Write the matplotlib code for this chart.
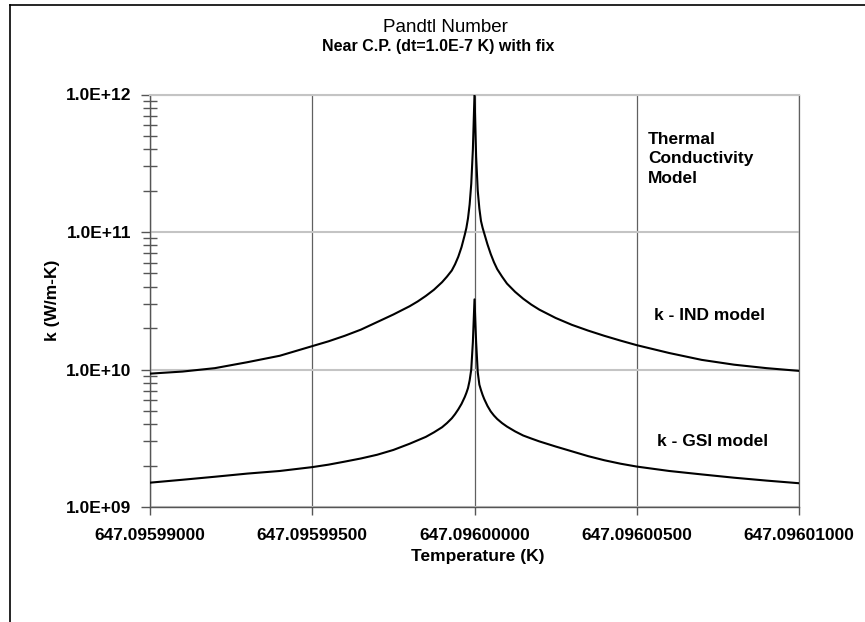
import matplotlib
matplotlib.use('Agg')
import matplotlib.pyplot as plt
from matplotlib.lines import Line2D
from matplotlib.ticker import LogLocator, NullFormatter, FixedLocator, FixedFormatter
import numpy as np

# ---------------- data ----------------
T0 = 647.096  # critical temperature (K)
dT_uK = [-10, -9, -8, -7, -6, -5, -4.5, -4, -3.5, -3, -2.5, -2, -1.75, -1.5, -1.25, -1,
         -0.85, -0.7, -0.6, -0.5, -0.4, -0.3, -0.25, -0.2, -0.15, -0.1, -0.05,
         0,
         0.05, 0.1, 0.15, 0.2, 0.25, 0.3, 0.4, 0.5, 0.6, 0.7, 0.85,
         1, 1.25, 1.5, 1.75, 2, 2.5, 3, 3.5, 4, 4.5, 5, 6, 7, 8, 9, 10]
k_IND = [9.33e9, 9.66e9, 1.023e10, 1.130e10, 1.259e10, 1.479e10, 1.603e10, 1.758e10,
         1.950e10, 2.213e10, 2.512e10, 2.884e10, 3.126e10, 3.428e10, 3.802e10, 4.315e10,
         4.732e10, 5.248e10, 5.821e10, 6.607e10, 7.762e10, 9.550e10, 1.072e11, 1.259e11,
         1.585e11, 2.239e11, 3.981e11,
         1.0e12,
         3.548e11, 1.995e11, 1.479e11, 1.202e11, 1.072e11, 9.772e10, 8.128e10, 6.918e10,
         6.026e10, 5.370e10, 4.732e10, 4.217e10, 3.673e10, 3.273e10, 2.965e10, 2.723e10,
         2.371e10, 2.113e10, 1.919e10, 1.758e10, 1.622e10, 1.503e10, 1.318e10, 1.175e10,
         1.084e10, 1.023e10, 9.772e9]
k_GSI = [1.503e9, 1.578e9, 1.660e9, 1.750e9, 1.828e9, 1.950e9, 2.032e9, 2.138e9,
         2.254e9, 2.399e9, 2.600e9, 2.884e9, 3.055e9, 3.236e9, 3.491e9, 3.802e9,
         4.074e9, 4.416e9, 4.732e9, 5.129e9, 5.623e9, 6.310e9, 6.761e9, 7.328e9,
         8.318e9, 1.0e10, 1.585e10,
         3.236e10,
         1.585e10, 9.550e9, 7.762e9, 7.079e9, 6.531e9, 6.095e9, 5.433e9, 4.955e9,
         4.624e9, 4.365e9, 4.074e9, 3.846e9, 3.548e9, 3.311e9, 3.148e9, 2.999e9,
         2.754e9, 2.541e9, 2.344e9, 2.188e9, 2.065e9, 1.968e9, 1.828e9, 1.726e9,
         1.633e9, 1.556e9, 1.489e9]
assert len(dT_uK) == len(k_IND) == len(k_GSI)

x_ticks_uK = [-10, -5, 0, 5, 10]
x_tick_labels = ['647.09599000', '647.09599500', '647.09600000', '647.09600500', '647.09601000']
y_ticks = [1e9, 1e10, 1e11, 1e12]
y_tick_labels = ['1.0E+09', '1.0E+10', '1.0E+11', '1.0E+12']

title = 'Pandtl Number'
subtitle = 'Near C.P. (dt=1.0E-7 K) with fix'
xlabel = 'Temperature (K)'
ylabel = 'k (W/m-K)'
legend_title = 'Thermal\nConductivity\nModel'
label_IND = 'k - IND model'
label_GSI = 'k - GSI model'

# ---------------- figure ----------------
W, H = 865, 622
fig = plt.figure(figsize=(W / 100, H / 100), dpi=100)
fig.patch.set_facecolor('white')

def fx(px):
    return px / W

def fy(py):
    return 1 - py / H

L, R, T, B = 150, 799, 94.5, 507
ax = fig.add_axes([fx(L), fy(B), fx(R - L), (B - T) / H])

FONT = 'Liberation Sans'
T_arr = T0 + np.array(dT_uK) * 1e-6
ax.plot(T_arr, k_IND, color='black', lw=1.5, zorder=3)
ax.plot(T_arr, k_GSI, color='black', lw=1.5, zorder=3)

ax.set_yscale('log')
ax.set_ylim(1e9, 1e12)
ax.set_xlim(T0 - 1e-5, T0 + 1e-5)

ax.xaxis.set_major_locator(FixedLocator(list(T0 + np.array(x_ticks_uK) * 1e-6)))
ax.xaxis.set_major_formatter(FixedFormatter(x_tick_labels))
ax.yaxis.set_major_locator(FixedLocator(y_ticks))
ax.yaxis.set_major_formatter(FixedFormatter(y_tick_labels))
ax.yaxis.set_minor_locator(LogLocator(base=10, subs=np.arange(2, 10)))
ax.yaxis.set_minor_formatter(NullFormatter())

ax.set_axisbelow(True)
ax.yaxis.grid(True, which='major', color='#c4c4c4', lw=1.5)
ax.xaxis.grid(True, which='major', color='#606060', lw=0.9)

for s in ['left', 'bottom']:
    ax.spines[s].set_color('#555555')
    ax.spines[s].set_linewidth(1.0)
ax.spines['right'].set_color('#606060')
ax.spines['right'].set_linewidth(0.9)
ax.spines['top'].set_color('#c4c4c4')
ax.spines['top'].set_linewidth(1.5)

ax.tick_params(axis='y', which='major', direction='out', length=6.5, width=1.0,
               color='#555555', pad=7)
ax.tick_params(axis='y', which='minor', direction='inout', length=9.5, width=1.0,
               color='#555555')
ax.tick_params(axis='x', which='major', direction='out', length=6, width=1.0,
               color='#555555', pad=9)
ax.tick_params(axis='x', which='minor', bottom=False)

for lab in ax.get_xticklabels() + ax.get_yticklabels():
    lab.set_fontfamily(FONT)
    lab.set_fontweight('bold')
    lab.set_fontsize(12.5)

# titles and labels
fig.text(fx(445), fy(28), title, ha='center', va='center', fontsize=13.5, family=FONT)
fig.text(fx(438), fy(46.5), subtitle, ha='center', va='center', fontsize=11.5,
         family=FONT, fontweight='bold')
fig.text(fx(478), fy(556), xlabel, ha='center', va='center', fontsize=12.5,
         family=FONT, fontweight='bold')
fig.text(fx(52), fy(300), ylabel, ha='center', va='center', rotation=90, fontsize=12.5,
         family=FONT, fontweight='bold')

fig.text(fx(648), fy(159), legend_title, ha='left', va='center', fontsize=12.5,
         family=FONT, fontweight='bold', linespacing=1.4)
fig.text(fx(654), fy(316), label_IND, ha='left', va='center', fontsize=12.5,
         family=FONT, fontweight='bold')
fig.text(fx(657), fy(442), label_GSI, ha='left', va='center', fontsize=12.5,
         family=FONT, fontweight='bold')

# outer frame (top and left edges)
fig.add_artist(Line2D([fx(10), fx(10)], [0, fy(5)], color='black', lw=1.2,
                      transform=fig.transFigure))
fig.add_artist(Line2D([fx(10), 1], [fy(5), fy(5)], color='black', lw=1.2,
                      transform=fig.transFigure))

fig.savefig('out.png', dpi=100, facecolor='white')
